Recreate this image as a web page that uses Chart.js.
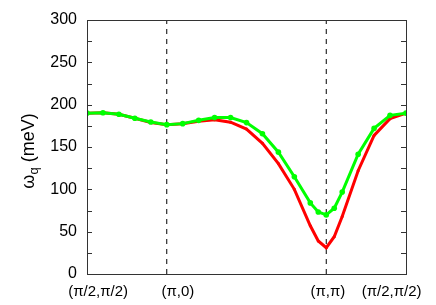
<!DOCTYPE html>
<html>
<head>
<meta charset="utf-8">
<script src="https://cdn.jsdelivr.net/npm/chart.js@4"></script>
<style>
  html, body { margin: 0; padding: 0; background: #fff; }
  #wrap { width: 436px; height: 305px; }
</style>
</head>
<body>
<div id="wrap"><canvas id="dispersion"></canvas></div>
<script>
// path coordinate: (pi/2,pi/2)=0, (pi,0)=1, (pi,pi)=3, (pi/2,pi/2)=4
const qPath = [0, 0.2, 0.4, 0.6, 0.8, 1.0, 1.2, 1.4, 1.6, 1.8, 2.0, 2.2, 2.4, 2.6, 2.8, 2.9, 3.0, 3.1, 3.2, 3.4, 3.6, 3.8, 4.0];
const omegaGreen = [190, 190.5, 188.6, 184, 179.5, 176.4, 177.6, 181.5, 184.8, 184.8, 178.8, 165.7, 143.9, 114.8, 84, 73.3, 69.8, 77.7, 96.8, 141.5, 172, 187.4, 190];
const omegaRed = [190, 190.5, 188.6, 184, 179, 176.4, 177.6, 180.3, 182.3, 179.3, 171.2, 154.4, 130.4, 100, 57, 39, 31, 44, 68, 122, 163.7, 183.5, 190];
const symmetryPoints = [1, 3];
const xTickLabels = ['(\u03c0/2,\u03c0/2)', '(\u03c0,0)', '(\u03c0,\u03c0)', '(\u03c0/2,\u03c0/2)'];
const xTickAt = [0.14, 1.14, 3.02, 3.82];
const yMin = 0, yMax = 300, yStep = 50, yMinor = 25;

const FONT = '"Liberation Sans", Arial, Helvetica, sans-serif';

const toPoints = (xs, ys) => xs.map((x, i) => ({ x, y: ys[i] }));

// dashed verticals at the symmetry points
const dashSets = symmetryPoints.map(q => ({
  data: [{ x: q, y: yMin }, { x: q, y: yMax }],
  borderColor: '#000',
  borderWidth: 1,
  borderDash: [5, 5],
  pointRadius: 0,
  order: 3
}));

// frame + inward ticks on left/right, like gnuplot
const framePlugin = {
  id: 'frame',
  afterDatasetsDraw(chart) {
    const { ctx, chartArea: a, scales } = chart;
    ctx.save();
    ctx.strokeStyle = '#333';
    ctx.lineWidth = 1;
    ctx.strokeRect(Math.round(a.left) + 0.5, Math.round(a.top) + 0.5,
      Math.round(a.right - a.left), Math.round(a.bottom - a.top));
    ctx.beginPath();
    for (let v = yMin + yMinor; v < yMax; v += yMinor) {
      const y = Math.round(scales.y.getPixelForValue(v)) + 0.5;
      ctx.moveTo(a.left, y); ctx.lineTo(a.left + 5, y);
      ctx.moveTo(a.right, y); ctx.lineTo(a.right - 5, y);
    }
    ctx.stroke();
    ctx.restore();
  },
  afterDraw(chart) {
    // y axis title with subscript q
    const { ctx } = chart;
    ctx.save();
    ctx.fillStyle = '#000';
    ctx.textBaseline = 'alphabetic';
    const big = '18px ' + FONT, small = '13px ' + FONT;
    ctx.font = big; const w1 = ctx.measureText('\u03c9').width;
    ctx.font = small; const w2 = ctx.measureText('q').width;
    ctx.font = big; const w3 = ctx.measureText(' (meV)').width;
    const total = w1 + w2 + w3;
    ctx.translate(34, 151);
    ctx.rotate(-Math.PI / 2);
    let x = -total / 2;
    ctx.font = big; ctx.fillText('\u03c9', x, 0); x += w1;
    ctx.font = small; ctx.fillText('q', x, 4); x += w2;
    ctx.font = big; ctx.fillText(' (meV)', x, 0);
    ctx.restore();
  }
};

new Chart(document.getElementById('dispersion'), {
  type: 'line',
  data: {
    datasets: [
      ...dashSets,
      {
        data: toPoints(qPath, omegaRed),
        borderColor: '#ff0000',
        backgroundColor: '#ff0000',
        borderWidth: 3,
        pointRadius: 1.5,
        pointBorderWidth: 0,
        order: 2
      },
      {
        data: toPoints(qPath, omegaGreen),
        borderColor: '#00ff00',
        backgroundColor: '#00ff00',
        borderWidth: 3,
        pointRadius: 2.8,
        pointBorderWidth: 0,
        order: 1
      }
    ]
  },
  options: {
    responsive: true,
    maintainAspectRatio: false,
    animation: false,
    layout: { padding: { top: 20, right: 30, left: 0, bottom: 0 } },
    plugins: { legend: { display: false }, tooltip: { enabled: false } },
    scales: {
      x: {
        type: 'linear',
        min: 0,
        max: 4,
        grid: { display: false, drawTicks: false },
        border: { display: false },
        afterBuildTicks: s => { s.ticks = xTickAt.map(v => ({ value: v })); },
        afterFit: s => { s.height = 31; },
        ticks: {
          autoSkip: false,
          maxRotation: 0,
          padding: 9,
          color: '#000',
          font: { family: FONT, size: 15 },
          callback: (v, i) => xTickLabels[i]
        }
      },
      y: {
        min: yMin,
        max: yMax,
        grid: { display: false, drawTicks: false },
        border: { display: false },
        afterFit: s => { s.width = 87; },
        ticks: {
          stepSize: yStep,
          padding: 10,
          color: '#000',
          font: { family: FONT, size: 16 }
        }
      }
    }
  },
  plugins: [framePlugin]
});
</script>
</body>
</html>
